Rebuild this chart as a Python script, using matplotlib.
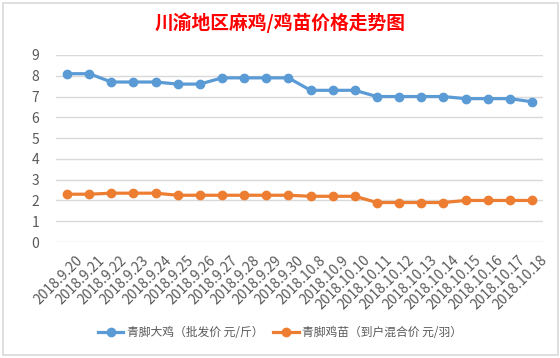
import matplotlib.pyplot as plt
import matplotlib.transforms as mtransforms
from matplotlib.patches import Rectangle
from matplotlib.lines import Line2D

plt.rcParams['font.family'] = ['Noto Sans CJK SC', 'DejaVu Sans']

# data
dates = ['2018.9.20', '2018.9.21', '2018.9.22', '2018.9.23', '2018.9.24', '2018.9.25',
         '2018.9.26', '2018.9.27', '2018.9.28', '2018.9.29', '2018.9.30', '2018.10.8',
         '2018.10.9', '2018.10.10', '2018.10.11', '2018.10.12', '2018.10.13', '2018.10.14',
         '2018.10.15', '2018.10.16', '2018.10.17', '2018.10.18']
big_chicken = [8.1, 8.1, 7.7, 7.7, 7.7, 7.6, 7.6, 7.9, 7.9, 7.9, 7.9,
               7.3, 7.3, 7.3, 7.0, 7.0, 7.0, 7.0, 6.9, 6.9, 6.9, 6.75]
chicks = [2.3, 2.3, 2.35, 2.35, 2.35, 2.25, 2.25, 2.25, 2.25, 2.25, 2.25,
          2.2, 2.2, 2.2, 1.9, 1.9, 1.9, 1.9, 2.0, 2.0, 2.0, 2.0]
labels = ['青脚大鸡（批发价 元/斤）', '青脚鸡苗（到户混合价 元/羽）']
title = '川渝地区麻鸡/鸡苗价格走势图'

blue = '#5B9BD5'
orange = '#ED7D31'
grey_txt = '#595959'

fig = plt.figure(figsize=(5.6, 3.58), dpi=100)
W, H = 560, 358

# chart area border (excel style)
fig.patches.append(Rectangle((3 / W, 1 - 355 / H), 555 / W, 352 / H,
                             transform=fig.transFigure, fill=False,
                             edgecolor='#D9D9D9', linewidth=1.2))

ax = fig.add_axes([56 / W, 1 - 242 / H, 487 / W, 187 / H])
x = list(range(len(dates)))
ax.plot(x, big_chicken, color=blue, lw=2.3, marker='o', ms=6, label=labels[0])
ax.plot(x, chicks, color=orange, lw=2.3, marker='o', ms=6, label=labels[1])

ax.set_xlim(-0.5, len(dates) - 0.5)
ax.set_ylim(0, 9)
ax.set_yticks(range(0, 10))
ax.yaxis.grid(True, color='#D9D9D9', lw=1)
ax.set_axisbelow(True)
for s in ax.spines.values():
    s.set_visible(False)
ax.tick_params(axis='both', length=0, colors=grey_txt, labelsize=10)
ax.tick_params(axis='y', pad=12)
ax.tick_params(axis='x', pad=8)
ax.set_xticks(x)
ax.set_xticklabels(dates, rotation=45, ha='right', va='top',
                   rotation_mode='anchor', fontsize=10, color=grey_txt)
offset = mtransforms.ScaledTranslation(6 / 72, 0, fig.dpi_scale_trans)
for lab in ax.get_xticklabels():
    lab.set_transform(lab.get_transform() + offset)

fig.text(0.5, 1 - 23 / H, title, ha='center', va='center',
         fontsize=13.5, color='#FF0000', fontweight='bold')

handles = [Line2D([], [], color=blue, lw=2.3, marker='o', ms=6),
           Line2D([], [], color=orange, lw=2.3, marker='o', ms=6)]
fig.legend(handles, labels, loc='center', bbox_to_anchor=(0.5, 1 - 333 / H),
           ncol=2, frameon=False, fontsize=8.5, handlelength=2.2,
           columnspacing=0.8, handletextpad=0.3, labelcolor=grey_txt)

fig.savefig('out.png', dpi=100)
